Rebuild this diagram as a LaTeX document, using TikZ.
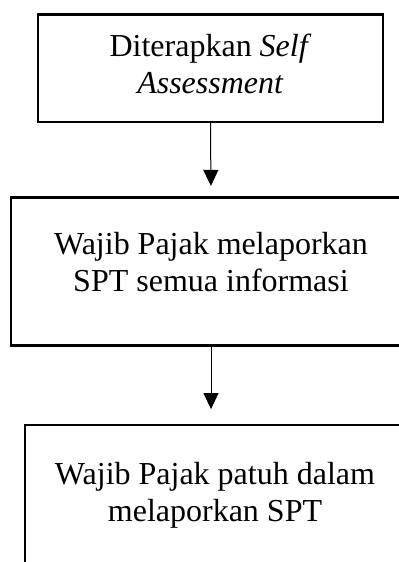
\documentclass[tikz,border=0pt]{standalone}
\usepackage{fontspec}
\setmainfont{Liberation Serif}
\usetikzlibrary{arrows.meta,positioning}

\begin{document}
\begin{tikzpicture}[
    x=0.75pt, y=0.75pt,
    >={Triangle[width=11.25pt,length=12pt]},
    stage/.style={
        rectangle, draw, line width=1.6pt,
        minimum width=#1, inner sep=0pt
    },
    stagetext/.style={
        anchor=north, align=center, inner sep=0pt,
        font=\fontsize{24}{27.5}\selectfont
    },
    flow/.style={
        ->, line width=0.75pt, draw=black
    }
]
\useasboundingbox (0,0) rectangle (399,-562);

% — Boxes —
\node[stage=258.75pt, minimum height=80.6pt] (assess) at (210.5,-68.25) {};
\node[stage=300pt, minimum height=111pt] (report) at (211,-271.5) {};
\node[stage=285pt, minimum height=131pt] (comply) at (215,-512.5) {};

% — Texts —
\node[stagetext] (assess_txt) at (210.5,-34)
    {Diterapkan \textit{Self}\\\textit{Assessment}};
\node[stagetext] (report_txt) at (211,-232)
    {Wajib Pajak melaporkan\\SPT semua informasi};
\node[stagetext] (comply_txt) at (215,-462)
    {Wajib Pajak patuh dalam\\melaporkan SPT};

% — Arrows —
\draw[flow, shorten >=7.9pt] (assess.south) -- (report.north);
\draw[flow, shorten >=11.25pt] (report.south) -- (report.south |- comply.north);

\end{tikzpicture}
\end{document}
